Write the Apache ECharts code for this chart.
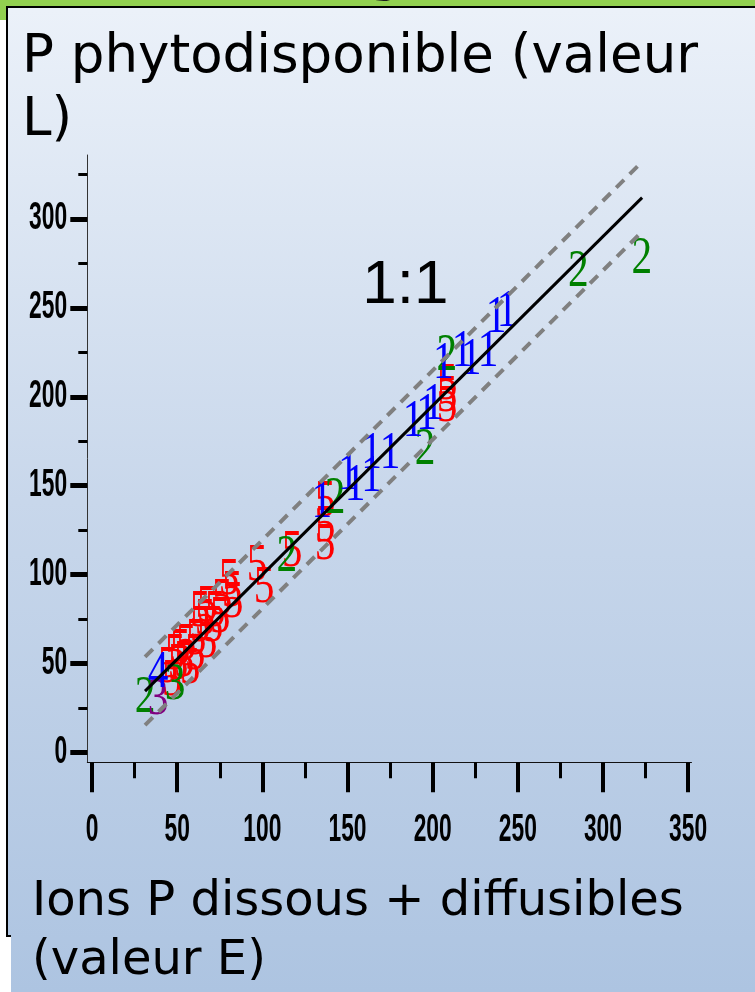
<!DOCTYPE html>
<html>
<head>
<meta charset="utf-8">
<script src="https://cdn.jsdelivr.net/npm/echarts@6/dist/echarts.min.js"></script>
<style>
  html, body { margin: 0; padding: 0; background: #ffffff; }
  #chart { width: 755px; height: 992px; }
</style>
</head>
<body>
<div id="chart"></div>
<script>
// Tick positions and labels
const xMajorTicks = [0, 50, 100, 150, 200, 250, 300, 350];
const xMinorTicks = [25, 75, 125, 175, 225, 275, 325];
const yMajorTicks = [0, 50, 100, 150, 200, 250, 300];
const yMinorTicks = [25, 75, 125, 175, 225, 275, 325];

// Soil groups: [E value, L value]
const site1 = [
  [134.9, 140], [150.5, 155.8], [154.4, 150], [164.2, 155], [164.2, 167.5],
  [175, 168], [188.5, 185.7], [196.5, 189.5], [200.4, 195.2], [206.3, 218.5],
  [217.3, 224.9], [222.6, 220.4], [232.6, 224.9], [237.2, 244], [243.7, 247.4]
];
const site2 = [
  [31.1, 30.5], [114.3, 110], [142.7, 142.7], [195.5, 169.8],
  [208.3, 223], [285.6, 270], [322.8, 277.5]
];
const site3 = [[38.8, 29.4]];
const site3b = [[48.7, 37.8]];
const site4 = [[38.8, 44.6]];
const site5 = [
  [47.0, 40.1], [48.7, 54.7], [51.7, 57.5], [54.0, 50.7], [57.5, 46.8],
  [55.2, 60.3], [61.1, 63.1], [63.4, 70.4], [63.4, 78.8], [67.5, 81.6],
  [67.5, 61.4], [71.0, 70.4], [75.2, 75.4], [80.4, 96.8], [82.8, 83.9],
  [82.2, 90.1], [96.9, 104.7], [101.0, 92.3], [117.4, 112.5], [136.8, 140.6],
  [136.8, 126.6], [136.8, 116.5], [208.5, 206.4], [208.5, 199.8], [208.5, 194],
  [50.5, 49.2], [60.5, 54.7], [66.4, 74.3], [72.2, 78.8], [76.3, 85.6], [44.6, 47.4]
];

// 1:1 line and its band
const lineOneToOne = [[31.1, 34.4], [323, 312]];
const bandUpper = [[31.1, 53.7], [322.4, 331.6]];
const bandLower = [[31.1, 15.3], [322.4, 292.3]];
const ratioLabelPos = [[184, 262.5]];

const chart = echarts.init(document.getElementById('chart'));

// Text drawn at a data position, optionally shifted by a pixel offset
function textSeries(name, data, opts) {
  return {
    name: name,
    type: 'custom',
    xAxisIndex: 0,
    yAxisIndex: 0,
    z: opts.z,
    silent: true,
    clip: false,
    data: data,
    renderItem: function (params, api) {
      const v0 = api.value(0);
      const v1 = api.value(1);
      const p = api.coord([v0, v1]);
      const text = opts.text != null ? opts.text : String(opts.labelDim === 1 ? v1 : v0);
      return {
        type: 'text',
        x: p[0] + (opts.dx || 0),
        y: p[1] + (opts.dy || 0),
        scaleX: opts.scaleX,
        style: {
          text: text,
          fill: opts.color,
          font: opts.font,
          align: opts.align || 'center',
          verticalAlign: 'middle'
        }
      };
    }
  };
}

const digitFont = '53px "Liberation Serif", "DejaVu Serif", serif';
function digitSeries(name, data, text, color) {
  return textSeries(name, data, { text: text, color: color, font: digitFont, scaleX: 0.78, z: 2 });
}

function refLine(data, style) {
  return {
    type: 'line',
    xAxisIndex: 0,
    yAxisIndex: 0,
    z: 4,
    data: data,
    symbol: 'none',
    silent: true,
    lineStyle: style
  };
}

// Condensed tick numerals placed at the tick values of each axis
const tickFont = 'bold 38px "Liberation Sans", Arial, sans-serif';
const xTickLabels = textSeries('xTickLabels', xMajorTicks.map(function (v) { return [v, 0]; }), {
  color: '#000', font: tickFont, scaleX: 0.6, dy: 78, labelDim: 0, z: 5
});
const yTickLabels = textSeries('yTickLabels', yMajorTicks.map(function (v) { return [0, v]; }), {
  color: '#000', font: tickFont, scaleX: 0.6, dx: -25, align: 'right', labelDim: 1, z: 5
});

const bgGradient = new echarts.graphic.LinearGradient(0, 10, 0, 992, [
  { offset: 0, color: '#ebf1f9' },
  { offset: 0.5, color: '#c8d7eb' },
  { offset: 1, color: '#adc4e1' }
], true);

const titleFont = '53px "DejaVu Sans", sans-serif';
const axisTitleFont = '48px "DejaVu Sans", sans-serif';

chart.setOption({
  animation: false,
  backgroundColor: '#ffffff',
  graphic: [
    { type: 'rect', z: -10, shape: { x: 0, y: 0, width: 755, height: 8 }, style: { fill: '#92d050' } },
    { type: 'rect', z: -10, shape: { x: 0, y: 0, width: 8, height: 20 }, style: { fill: '#92d050' } },
    {
      type: 'text', z: -9, x: 368, y: -50,
      style: { text: 'g', fill: '#1a1a1a', font: titleFont, verticalAlign: 'top' }
    },
    {
      type: 'rect', z: -8,
      shape: { x: 7, y: 7, width: 760, height: 929 },
      style: { fill: bgGradient, stroke: '#000', lineWidth: 2 }
    },
    {
      type: 'rect', z: -8,
      shape: { x: 11, y: 935, width: 744, height: 57 },
      style: { fill: bgGradient }
    },
    {
      type: 'text', z: 5, x: 22, y: 32,
      style: { text: 'P phytodisponible (valeur', fill: '#000', font: titleFont, verticalAlign: 'top' }
    },
    {
      type: 'text', z: 5, x: 22, y: 95,
      style: { text: 'L)', fill: '#000', font: titleFont, verticalAlign: 'top' }
    },
    {
      type: 'text', z: 5, x: 32, y: 879,
      style: { text: 'Ions P dissous + diffusibles', fill: '#000', font: axisTitleFont, verticalAlign: 'top' }
    },
    {
      type: 'text', z: 5, x: 32, y: 938,
      style: { text: '(valeur E)', fill: '#000', font: axisTitleFont, verticalAlign: 'top' }
    }
  ],
  grid: { left: 87.3, right: 63.5, top: 155, bottom: 229.7, containLabel: false },
  xAxis: [
    {
      type: 'value', position: 'bottom', offset: 0, min: -2.8, max: 352, z: 3,
      splitLine: { show: false },
      axisLine: { show: true, onZero: false, lineStyle: { color: '#111', width: 1 } },
      axisTick: { show: true, customValues: xMajorTicks, length: 30, lineStyle: { color: '#000', width: 4 } },
      axisLabel: { show: false }
    },
    {
      type: 'value', position: 'bottom', offset: 0, min: -2.8, max: 352, z: 3,
      splitLine: { show: false },
      axisLine: { show: false, onZero: false },
      axisTick: { show: true, customValues: xMinorTicks, length: 16, lineStyle: { color: '#000', width: 3 } },
      axisLabel: { show: false }
    }
  ],
  yAxis: [
    {
      type: 'value', position: 'left', offset: 0, min: -5.6, max: 336, z: 3,
      splitLine: { show: false },
      axisLine: { show: true, onZero: false, lineStyle: { color: '#333', width: 1 } },
      axisTick: { show: true, customValues: yMajorTicks, length: 17, lineStyle: { color: '#000', width: 5 } },
      axisLabel: { show: false }
    },
    {
      type: 'value', position: 'left', offset: 0, min: -5.6, max: 336, z: 3,
      splitLine: { show: false },
      axisLine: { show: false, onZero: false },
      axisTick: { show: true, customValues: yMinorTicks, length: 9, lineStyle: { color: '#000', width: 3 } },
      axisLabel: { show: false }
    }
  ],
  series: [
    digitSeries('5', site5, '5', '#ff0000'),
    digitSeries('3b', site3b, '3', '#008000'),
    digitSeries('2', site2, '2', '#008000'),
    digitSeries('3', site3, '3', '#800080'),
    digitSeries('4', site4, '4', '#0000ff'),
    digitSeries('1', site1, '1', '#0000ff'),
    refLine(bandUpper, { color: '#808080', width: 4, type: [11, 8] }),
    refLine(bandLower, { color: '#808080', width: 4, type: [11, 8] }),
    refLine(lineOneToOne, { color: '#000000', width: 3, type: 'solid' }),
    textSeries('ratio', ratioLabelPos, { text: '1:1', color: '#000', font: '62px "Liberation Sans", Arial, sans-serif', scaleX: 1, z: 5 }),
    xTickLabels,
    yTickLabels
  ]
});
</script>
</body>
</html>
